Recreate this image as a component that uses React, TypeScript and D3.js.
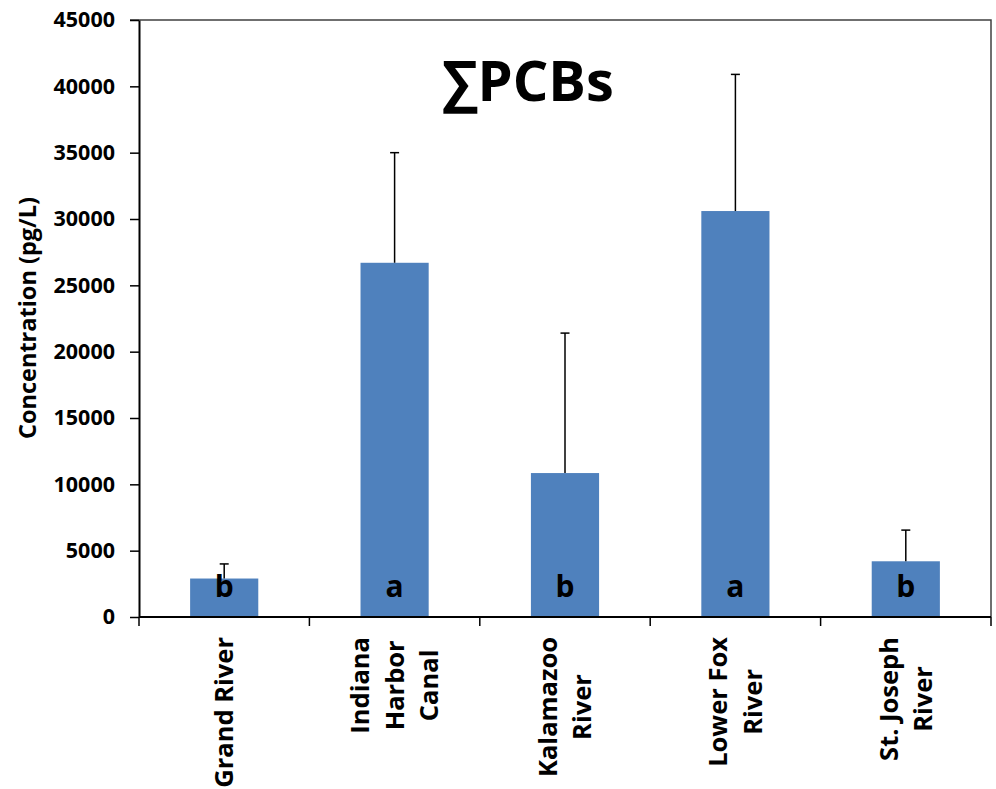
import React, { useEffect, useRef } from 'react';
import * as d3 from 'd3';

// Mean ∑PCB concentration per site (pg/L), upper error (SD), and letter groups
const sites = ['Grand River', 'Indiana Harbor Canal', 'Kalamazoo River', 'Lower Fox River', 'St. Joseph River'];
const siteLines = [['Grand River'], ['Indiana', 'Harbor', 'Canal'], ['Kalamazoo', 'River'], ['Lower Fox', 'River'], ['St. Joseph', 'River']];
const means = [2900, 26700, 10850, 30600, 4200];
const errors = [1100, 8300, 10550, 10300, 2350];
const groups = ['b', 'a', 'b', 'a', 'b'];
const yTicks = [0, 5000, 10000, 15000, 20000, 25000, 30000, 35000, 40000, 45000];

const W = 996;
const H = 789;
const FONT = '"Open Sans", "DejaVu Sans", sans-serif';

const App = () => {
    const svgRef = useRef<SVGSVGElement>(null);

    useEffect(() => {
        document.body.style.margin = '0';
        if (!svgRef.current) return;
        const svg = d3.select(svgRef.current);
        svg.selectAll('*').remove();

        const left = 139, right = 991, top = 20, bottom = 617;

        const x = d3.scaleBand<string>()
            .domain(sites)
            .range([left, right])
            .paddingInner(0.6)
            .paddingOuter(0.3);
        const y = d3.scaleLinear().domain([0, 45000]).range([bottom, top]);
        const step = x.step();

        // plot border (top and right)
        svg.append('path')
            .attr('d', `M${left - 9},${top}H${right}V${bottom}`)
            .attr('fill', 'none')
            .attr('stroke', '#404040')
            .attr('stroke-width', 1.5);

        // bars
        svg.append('g').selectAll('rect')
            .data(sites)
            .join('rect')
            .attr('x', d => x(d)!)
            .attr('width', x.bandwidth())
            .attr('y', (d, i) => y(means[i]))
            .attr('height', (d, i) => bottom - y(means[i]))
            .attr('fill', '#4F81BD');

        // error bars (upper only)
        const eb = svg.append('g').attr('stroke', '#000').attr('stroke-width', 1.5);
        sites.forEach((s, i) => {
            const cx = x(s)! + x.bandwidth() / 2;
            eb.append('line')
                .attr('x1', cx).attr('x2', cx)
                .attr('y1', y(means[i])).attr('y2', y(means[i] + errors[i]));
            eb.append('line')
                .attr('x1', cx - 4.5).attr('x2', cx + 4.5)
                .attr('y1', y(means[i] + errors[i])).attr('y2', y(means[i] + errors[i]));
        });

        // group letters
        svg.append('g').selectAll('text')
            .data(sites)
            .join('text')
            .attr('x', d => x(d)! + x.bandwidth() / 2)
            .attr('y', 597)
            .attr('text-anchor', 'middle')
            .attr('font-family', FONT)
            .attr('font-weight', 'bold')
            .attr('font-size', 30)
            .attr('fill', '#000')
            .text((d, i) => groups[i]);

        // y axis
        const yAxis = svg.append('g')
            .attr('transform', `translate(${left},0)`)
            .call(d3.axisLeft(y).tickValues(yTicks).tickSize(9).tickSizeOuter(0).tickPadding(15).tickFormat(d3.format('d')));
        yAxis.select('.domain').attr('stroke', '#000').attr('stroke-width', 2);
        yAxis.selectAll('.tick line').attr('stroke', '#000').attr('stroke-width', 1.5);
        yAxis.selectAll('.tick text')
            .attr('font-family', FONT)
            .attr('font-weight', 'bold')
            .attr('font-size', 21.5)
            .attr('fill', '#000');

        // x axis
        svg.append('line')
            .attr('x1', left).attr('x2', right)
            .attr('y1', bottom).attr('y2', bottom)
            .attr('stroke', '#000').attr('stroke-width', 2);
        svg.append('g').selectAll('line')
            .data(d3.range(sites.length + 1))
            .join('line')
            .attr('x1', i => left + i * step).attr('x2', i => left + i * step)
            .attr('y1', bottom).attr('y2', bottom + 9)
            .attr('stroke', '#000').attr('stroke-width', 1.5);

        // category labels, rotated, lines centred on the longest one
        sites.forEach((s, i) => {
            const cx = x(s)! + x.bandwidth() / 2;
            const g = svg.append('g').attr('transform', `translate(${cx},637) rotate(-90)`);
            const lines = siteLines[i];
            const texts = lines.map((ln, j) =>
                g.append('text')
                    .attr('text-anchor', 'middle')
                    .attr('y', (j - (lines.length - 1) / 2) * 34.5 + 9)
                    .attr('font-family', FONT)
                    .attr('font-weight', 'bold')
                    .attr('font-size', 25.5)
                    .attr('fill', '#000')
                    .text(ln)
            );
            const maxLen = d3.max(texts, t => (t.node() as SVGTextElement).getComputedTextLength()) || 0;
            texts.forEach(t => t.attr('x', -maxLen / 2));
        });

        // y axis title
        svg.append('text')
            .attr('transform', 'translate(36,318) rotate(-90)')
            .attr('text-anchor', 'middle')
            .attr('font-family', FONT)
            .attr('font-weight', 'bold')
            .attr('font-size', 23.5)
            .attr('fill', '#000')
            .text('Concentration (pg/L)');

        // title
        svg.append('text')
            .attr('x', 528)
            .attr('y', 101)
            .attr('text-anchor', 'middle')
            .attr('font-family', FONT)
            .attr('font-weight', 'bold')
            .attr('font-size', 56)
            .attr('fill', '#000')
            .text('∑PCBs');
    }, []);

    return (
        <div style={{ width: W, height: H, background: '#fff' }}>
            <svg ref={svgRef} width={W} height={H} style={{ display: 'block' }}></svg>
        </div>
    );
};

export default App;
